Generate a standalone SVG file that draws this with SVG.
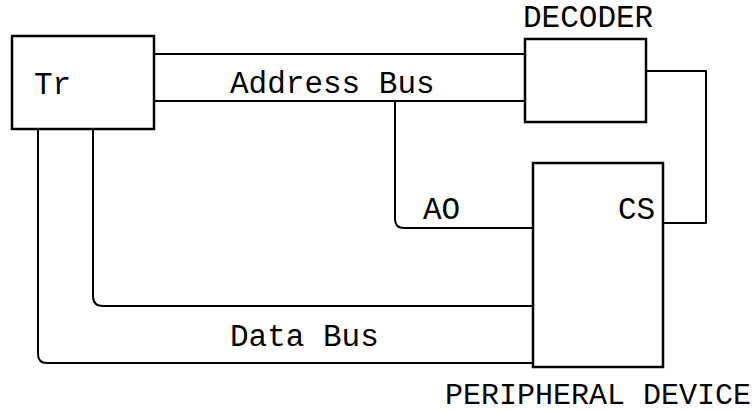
<svg xmlns="http://www.w3.org/2000/svg" width="756" height="412" viewBox="0 0 756 412">
<style>
.box{fill:none;stroke:#000;stroke-width:2.5}
.ln{fill:none;stroke:#000;stroke-width:2;stroke-linejoin:round}
text{font-family:"Liberation Mono","Courier New",monospace;font-size:31px;fill:#000}
</style>
<rect width="756" height="412" fill="#fff"/>
<g id="tr"><rect class="box" x="12" y="36" width="142" height="93"/><text x="34" y="94">Tr</text></g>
<g id="decoder"><rect class="box" x="525" y="39" width="121" height="83"/><text x="523" y="27">DECODER</text></g>
<g id="peripheral"><rect class="box" x="533" y="163" width="130" height="204"/><text x="751" y="404" text-anchor="end" style="font-size:30px">PERIPHERAL DEVICE</text><text x="618" y="219">CS</text></g>
<g id="connectors">
<path class="ln" d="M154 54H525M154 101H525"/>
<path class="ln" d="M646 71H706V223H663"/>
<path class="ln" d="M395 101V219Q395 228 404 228H533"/>
<path class="ln" d="M93 129V296Q93 306 103 306H533"/>
<path class="ln" d="M38 129V354Q38 363 47 363H533"/>
</g>
<text x="230" y="93">Address Bus</text>
<text x="423" y="219">AO</text>
<text x="230" y="346">Data Bus</text>
</svg>
